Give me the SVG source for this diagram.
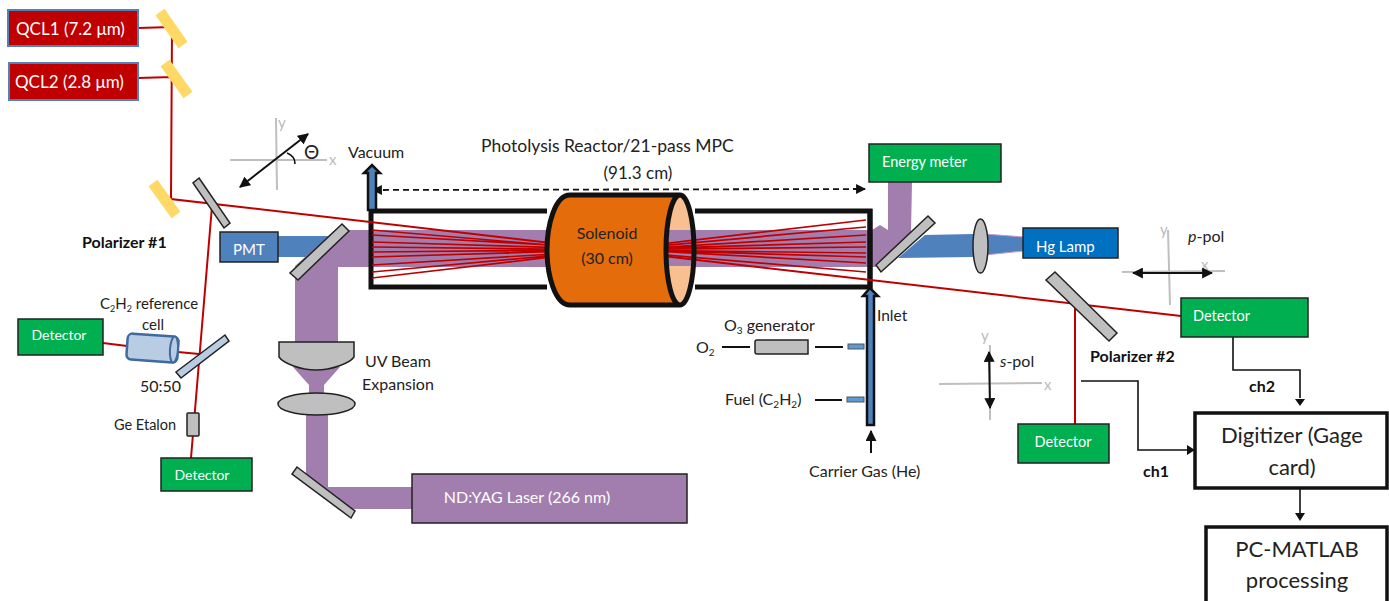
<svg xmlns="http://www.w3.org/2000/svg" width="1389" height="601" viewBox="0 0 1389 601">
<style>
text{font-family:"Lato","Carlito","Open Sans",sans-serif;fill:#222;font-size:16px}
.w{fill:#fff}.b{font-weight:700;fill:#111}.m{text-anchor:middle}
.axl{fill:#bbb;font-size:15px}
.red{fill:#c00000;stroke:#4f81bd;stroke-width:2}
.grn{fill:#00b050;stroke:#222;stroke-width:1.5}
.gray{fill:#bfbfbf;stroke:#222;stroke-width:1.5}
.yel{stroke:#ffd966;stroke-width:11;fill:none}
.rl{stroke:#c00000;stroke-width:2;fill:none}
.mp{stroke:#c00000;stroke-width:1.7;fill:none}
.pur{fill:#a27eae}.blu{fill:#4f81bd}
.ax{stroke:#bfbfbf;stroke-width:2;fill:none}
.k{stroke:#111;stroke-width:1.6;fill:none}
.ka{stroke:#111;stroke-width:2;fill:none;marker-end:url(#ah)}
.kd{stroke:#111;stroke-width:2;fill:none;marker-end:url(#ah);marker-start:url(#ah)}
.tube{fill:#4f81bd;stroke:#111;stroke-width:2.5}
.sb{fill:#5b9bd5;stroke:#555;stroke-width:1}
.box{fill:#fff;stroke:#111;stroke-width:3.5}
</style>
<defs>
<marker id="ah" viewBox="0 0 10 10" refX="9" refY="5" markerWidth="5.5" markerHeight="5.5" orient="auto-start-reverse"><path d="M0 0L10 5L0 10Z" fill="#111"/></marker>
</defs>

<g id="beams">
<path class="blu" d="M278 236H330V257H278Z"/>
<path class="pur" d="M335 230H872L880 225L888 230V182H912L911 232L876 267H338V342H295V266L335 230Z"/>
<path class="pur" d="M293 367H340L324 385V393L328 415V487H412V509H342L306 480V415L309 393V385Z"/>
<path class="blu" d="M925 235L973 234V257L898 258Z"/>
<path d="M985 234L1024 237V251L985 255Z" fill="#4f81bd" stroke="#c89ac8" stroke-width="1"/>
</g>

<g id="solenoid-bore"><ellipse cx="680" cy="250" rx="14" ry="55" fill="#f8c090"/>
<path class="pur" d="M666 230H695V266H666Z"/></g>

<g id="reactor"><path d="M547 211H371V287H547M695 211H870V287H695" fill="none" stroke="#111" stroke-width="5"/><path d="M870 209V289" stroke="#111" stroke-width="5"/></g>

<g id="connectors">
<path class="rl" d="M138 28L172 27M138 78L172 77M172 27L171 199L1181 316M212 206L191 458M103 343L127 346M178 352L199 354M1075 306V424"/>
<path class="mp" d="M372 278L866 220M372 272L866 227M372 265L866 235M372 257L866 242M372 252L866 247M372 247L866 253M372 242L866 257M372 235L866 263M372 230L866 272"/>
<path class="k" d="M1233 335V370H1300V398"/>
<path class="k" d="M1081 381H1138V450H1188"/>
<path class="k" d="M1300 489V514"/>
<path d="M1295 399H1305L1300 406ZM1187 445V455L1195 450ZM1295 513H1305L1300 521Z" fill="#111"/>
<path d="M373 190L865 189" stroke="#111" stroke-width="1.8" fill="none" stroke-dasharray="6 4" marker-start="url(#ah)" marker-end="url(#ah)"/>
<path class="ka" d="M722 347H750M815 347H843M815 400H842M871 453V431"/>
</g>

<g id="solenoid"><path d="M570 195H680A14 55 0 0 1 680 305H570C555 305 547 275 547 250C547 225 555 195 570 195ZM680 195A14 55 0 0 0 680 305A14 55 0 0 0 680 195Z" fill="#e46c0a" fill-rule="evenodd" stroke="#111" stroke-width="5"/>
<text class="m" x="607" y="239">Solenoid</text><text class="m" x="607" y="264">(30 cm)</text></g>

<g id="qcl1"><rect class="red" x="8" y="10" width="130" height="36"/><text class="w" x="16" y="35" font-size="17" style="font-size:17px">QCL1 (7.2 μm)</text></g>
<g id="qcl2"><rect class="red" x="9" y="63" width="129" height="37"/><text class="w" x="15" y="88" style="font-size:17px">QCL2 (2.8 μm)</text></g>
<g id="mirrors-yellow"><path class="yel" d="M160 12L183 45M165 63L188 95M153 183L176 215"/></g>

<g id="axes-theta"><path class="ax" d="M230 160H327M276 118L277 190"/><text class="axl" x="278" y="128">y</text><text class="axl" x="329" y="165">x</text>
<path class="kd" d="M240 187L308 134"/><path class="k" d="M287 153Q295 156 295 164"/><text x="304" y="159" style="font-size:19px">Θ</text></g>

<g id="polarizer1"><path class="gray" d="M199 178L230 223L224 228L193 183Z"/><text class="b" x="82" y="248">Polarizer #1</text></g>
<g id="pmt"><rect x="220" y="232" width="58" height="30" fill="#4f81bd" stroke="#222" stroke-width="1.5"/><text class="w m" x="249" y="255" style="font-size:15px">PMT</text></g>
<g id="mirror-pmt"><path class="gray" d="M342 224L349 231L298 280L290 273Z"/></g>

<g id="detector-ref"><rect class="grn" x="18" y="319" width="85" height="36"/><text class="w m" x="59" y="340" style="font-size:14px">Detector</text></g>
<g id="ref-cell"><g transform="rotate(4 152 348)"><rect x="127" y="335" width="51" height="26" rx="5" fill="#b8cce4" stroke="#3f6a9c" stroke-width="2.5"/><ellipse cx="174" cy="348" rx="4" ry="13" fill="#b8cce4" stroke="#3f6a9c" stroke-width="2"/></g>
<text x="100" y="309" style="font-size:15px">C<tspan dy="3" style="font-size:9px">2</tspan><tspan dy="-3">H</tspan><tspan dy="3" style="font-size:9px">2</tspan><tspan dy="-3"> reference</tspan></text><text class="m" x="153" y="330" style="font-size:15px">cell</text></g>
<g id="splitter"><path d="M176 372L225 335L229 341L181 378Z" fill="#b8cce4" stroke="#222" stroke-width="1.5"/><text x="140" y="392" style="font-size:16px">50:50</text></g>
<g id="etalon"><rect class="gray" x="187" y="413" width="12" height="23" rx="1"/><text x="114" y="430" style="font-size:14.5px">Ge Etalon</text></g>
<g id="detector-bottom"><rect class="grn" x="161" y="458" width="91" height="33"/><text class="w m" x="202" y="480" style="font-size:14px">Detector</text></g>

<g id="uv-expansion"><path class="gray" d="M279 342H354V357C350 363 332 370 316 370C300 370 283 363 279 357Z"/><ellipse class="gray" cx="316.5" cy="404" rx="38.5" ry="11"/>
<text x="365" y="367">UV Beam</text><text x="362" y="390">Expansion</text></g>
<g id="mirror-yag"><path class="gray" d="M297 467L355 511L351 518L292 474Z"/></g>
<g id="laser"><rect x="412" y="474" width="275" height="49" fill="#a27eae" stroke="#222" stroke-width="1.5"/><text class="w m" x="527" y="503" style="font-size:16px">ND:YAG Laser (266 nm)</text></g>

<g id="vacuum"><path class="tube" d="M368 210V173H364L372 165L380 173H376V210Z"/><text x="348" y="158">Vacuum</text></g>
<g id="title"><text x="481" y="152" style="font-size:17.5px">Photolysis Reactor/21-pass MPC</text><text class="m" x="638" y="179" style="font-size:17px">(91.3 cm)</text></g>

<g id="energy-meter"><rect class="grn" x="869" y="144" width="132" height="38"/><text class="w" x="882" y="167" style="font-size:14.5px">Energy meter</text></g>
<g id="mirror-hg"><path class="gray" d="M928 216L935 223L881 272L876 265Z"/></g>
<g id="lens-hg"><ellipse class="gray" cx="980.5" cy="246" rx="7.5" ry="27"/></g>
<g id="hg-lamp"><rect x="1023" y="228" width="95" height="30" fill="#0070c0" stroke="#222" stroke-width="1.5"/><text class="w" x="1036" y="252" style="font-size:15px">Hg Lamp</text></g>

<g id="axes-p"><path class="ax" d="M1122 272L1225 271M1168 230L1170 305"/><text class="axl" x="1160" y="235">y</text><text class="axl" x="1201" y="270">x</text>
<path class="kd" d="M1133 273H1212"/><text x="1188" y="242"><tspan font-style="italic">p</tspan>-pol</text></g>
<g id="polarizer2"><path class="gray" d="M1055 272L1117 333L1109 341L1046 280Z"/><text class="b" x="1090" y="362">Polarizer #2</text></g>
<g id="detector-ch2"><rect class="grn" x="1181" y="298" width="127" height="39"/><text class="w" x="1193" y="321" style="font-size:14.5px">Detector</text></g>
<g id="detector-ch1"><rect class="grn" x="1018" y="424" width="91" height="39"/><text class="w m" x="1063" y="447" style="font-size:14.5px">Detector</text></g>

<g id="inlet"><path class="tube" d="M867 425V296H863L870 288L878 296H874V425Z"/><text x="877" y="321" style="font-size:15.5px">Inlet</text>
<text x="809" y="477">Carrier Gas (He)</text>
<rect class="sb" x="848" y="344" width="16" height="5"/><rect class="sb" x="847" y="397" width="17" height="5"/></g>
<g id="o3-generator"><path class="gray" d="M757 340H808V354H757Q755 354 755 352V342Q755 340 757 340Z"/><text x="724" y="331">O<tspan dy="3" style="font-size:10px">3</tspan><tspan dy="-3"> generator</tspan></text>
<text x="696" y="353">O<tspan dy="3" style="font-size:10px">2</tspan></text>
<text x="725" y="405">Fuel (C<tspan dy="3" style="font-size:10px">2</tspan><tspan dy="-3">H</tspan><tspan dy="3" style="font-size:10px">2</tspan><tspan dy="-3">)</tspan></text></g>

<g id="axes-s"><path class="ax" d="M939 384L1042 383M990 345V420"/><text class="axl" x="981" y="341">y</text><text class="axl" x="1044" y="390">x</text>
<path class="kd" d="M989 352L990 408"/><text x="1000" y="367"><tspan font-style="italic">s</tspan>-pol</text></g>

<g id="digitizer"><rect class="box" x="1195" y="413" width="192" height="75"/><text class="m" x="1292" y="443" style="font-size:22px">Digitizer (Gage</text><text class="m" x="1292" y="475" style="font-size:22px">card)</text></g>
<g id="matlab"><rect class="box" x="1206" y="527" width="181" height="76"/><text class="m" x="1297" y="557" style="font-size:22px">PC-MATLAB</text><text class="m" x="1297" y="588" style="font-size:22px">processing</text></g>
<g id="labels"><text class="b" x="1249" y="392">ch2</text><text class="b" x="1143" y="477">ch1</text></g>
</svg>
